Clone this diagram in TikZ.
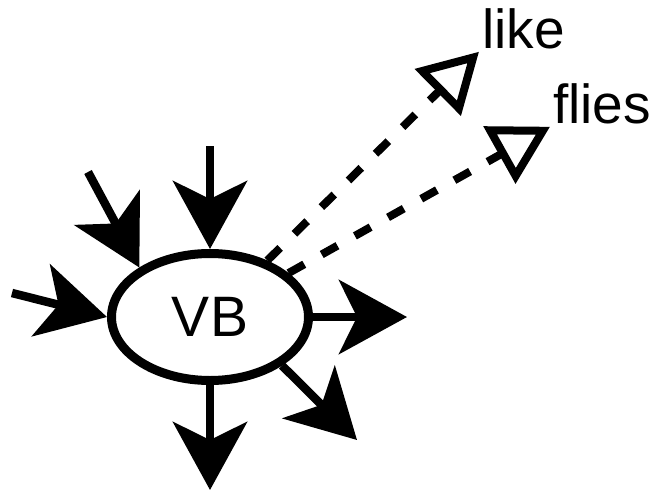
\documentclass[tikz,border=0pt]{standalone}
\usepackage{fontspec}
\setmainfont{Liberation Sans}
\usetikzlibrary{arrows.meta,shapes.geometric}
\begin{document}
\begin{tikzpicture}[x=1pt,y=-1pt,
  edge/.style={line width=8.5pt,-{Stealth[length=68pt,width=74pt,inset=18pt]}},
  ref/.style={line width=8pt,dash pattern=on 18pt off 20pt,-{Triangle[open,length=58pt,width=64pt]}},
  word/.style={font=\fontsize{55}{60}\selectfont,inner sep=3pt,anchor=base west}]
\useasboundingbox (0,0) rectangle (656,490);
\node[draw,ellipse,line width=9pt,minimum width=197pt,minimum height=127pt,font=\fontsize{57}{60}\selectfont] (vb) at (210,317) {VB};
\coordinate (inTop) at (210,146);
\coordinate (inDiag) at (88,172);
\coordinate (inLeft) at (12,293);
\coordinate (outRight) at (407,317);
\coordinate (outDiag) at (357,440);
\coordinate (outDown) at (210,490);
\draw[edge] (inTop) -- (vb.north);
\draw[edge] (inDiag) -- (vb.145);
\draw[edge] (inLeft) -- (vb.west);
\draw[edge] (vb.east) -- (outRight);
\draw[edge] (vb.-34) -- (outDiag);
\draw[edge] (vb.south) -- (outDown);
\node[word] (like) at (479,48) {like};
\node[word] (flies) at (550,123) {flies};
\draw[ref] (vb) -- (like.south west);
\draw[ref] (vb) -- (flies.south west);
\end{tikzpicture}
\end{document}
